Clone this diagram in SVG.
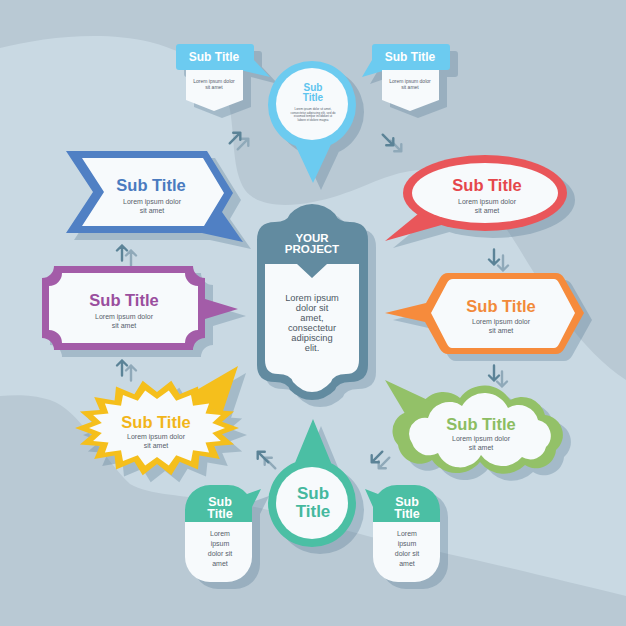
<svg xmlns="http://www.w3.org/2000/svg" width="626" height="626" viewBox="0 0 626 626">
<style>
text{font-family:"Liberation Sans",Arial,sans-serif;text-anchor:middle}
.t{font-weight:bold}
.sh{fill:#51758d;opacity:.3}
.w{fill:#f7fafc}
.lo{fill:#56606b;font-size:7px}
.lo5{fill:#56606b;font-size:5px}
.lo3{fill:#56606b;font-size:3px}
.lc{fill:#4d5863;font-size:9.3px}
.ad{stroke:#5b8397}
.al{stroke:#8fa9b9}
</style>
<defs>
<path id="arr" d="M0,7.5 L0,-7.5 M-5,-2.5 L0,-7.5 L5,-2.5" fill="none" stroke-width="2.4" stroke-linecap="round" stroke-linejoin="round"/>
<path id="s-tl" d="M179,44 L251,44 Q254,44 254,47 L254,60 L270,77 L243,70 L243,100 L214,111 L186,100 L186,70 L179,70 Q176,70 176,67 L176,47 Q176,44 179,44 Z"/>
<path id="s-tr" d="M375,44 L447,44 Q450,44 450,47 L450,67 Q450,70 447,70 L439,70 L439,100 L410,111 L382,100 L382,70 L362,77 L372,60 L372,47 Q372,44 375,44 Z"/>
<path id="s-pin" d="M268,105 A44,44 0 1 1 356,105 A44,44 0 1 1 268,105 Z M334,138 L313,183 L292,138 Z"/>
<path id="s-blue" d="M66,151 L207,151 L233,193 L222,212 L243,242 L202,233 L66,233 L93,192 Z"/>
<path id="s-purple" d="M54,266 L193,266 A12,12 0 0 0 205,278 L205,299 L238,309 L205,319 L205,338 A12,12 0 0 0 193,350 L54,350 A12,12 0 0 0 42,338 L42,278 A12,12 0 0 0 54,266 Z"/>
<g id="s-yellow">
<polygon points="239,428 222,434.3 234.1,444.4 214.2,446 219.8,458.9 199.4,455.6 198,469.6 179.6,461.8 171.3,475.3 157,464 142.7,475.3 134.4,461.8 116,469.6 114.6,455.6 94.2,458.9 99.8,446 79.9,444.4 92,434.3 75,428 92,421.7 79.9,411.6 99.8,410 94.2,397.1 114.6,400.4 116,386.4 134.4,394.2 142.7,380.7 157,392 171.3,380.7 179.6,394.2 198,386.4 199.4,400.4 219.8,397.1 214.2,410 234.1,411.6 222,421.7"/>
<polygon points="188,395 238,366 222,414"/>
</g>
<path id="s-center" d="M257,240 Q257,222 275,222 Q287,222 290,214 Q300,204 312,204 Q325,204 335,214 Q338,222 350,222 Q368,222 368,240 L368,365 Q368,382 350,382 Q338,382 335,390 Q325,400 312,400 Q300,400 290,390 Q287,382 275,382 Q257,382 257,365 Z"/>
<g id="s-red">
<ellipse cx="485" cy="193" rx="82" ry="38"/>
<polygon points="418,214 385,241 445,224"/>
</g>
<path id="s-orange" d="M448,273 L556,273 Q561,273 564,278 L584,313 L564,349 Q561,354 556,354 L448,354 Q443,354 440,349 L425,322 L385,313 L426,303 L440,278 Q443,273 448,273 Z"/>
<g id="s-green">
<path d="M398,445 A20,20 0 0 1 418,412 A26,26 0 0 1 460,398 A30,30 0 0 1 510,400 A24,24 0 0 1 545,415 A20,20 0 0 1 556,450 A20,20 0 0 1 525,465 A30,30 0 0 1 480,462 A30,30 0 0 1 432,460 A22,22 0 0 1 398,445 Z"/>
<polygon points="385,380 432,402 410,422"/>
</g>
<path id="s-bpin" d="M268,503 A44,44 0 1 1 356,503 A44,44 0 1 1 268,503 Z M292,470 L313,419 L334,470 Z"/>
<path id="s-bl" d="M185,510 A25,25 0 0 1 210,485 L227,485 A25,25 0 0 1 247,494 L261,489 L252,507 L252,557 A25,25 0 0 1 227,582 L210,582 A25,25 0 0 1 185,557 Z"/>
<path id="s-br" d="M440,510 A25,25 0 0 0 415,485 L398,485 A25,25 0 0 0 378,494 L365,489 L373,507 L373,557 A25,25 0 0 0 398,582 L415,582 A25,25 0 0 0 440,557 Z"/>
</defs>

<g id="background">
<rect width="626" height="626" fill="#b9c9d4"/>
<path fill="#c9d9e3" d="M0,48 C40,38 100,30 150,42 C200,55 225,80 230,110 C235,140 232,170 245,190 C260,210 300,208 340,195 C370,185 390,172 420,170 C455,170 480,195 500,220 C530,260 565,340 626,380 L626,596 C560,580 480,560 420,548 C350,534 300,515 230,502 C180,495 150,495 130,484 C100,455 80,410 50,400 C30,394 15,395 0,396 Z"/>
</g>

<g id="connectors">
<use href="#arr" class="al" transform="translate(243,144) rotate(45)"/>
<use href="#arr" class="ad" transform="translate(235,138) rotate(45)"/>
<use href="#arr" class="al" transform="translate(396,146) rotate(135)"/>
<use href="#arr" class="ad" transform="translate(388,140) rotate(135)"/>
<use href="#arr" class="al" transform="translate(503,263) rotate(180)"/>
<use href="#arr" class="ad" transform="translate(494,257) rotate(180)"/>
<use href="#arr" class="al" transform="translate(502,379) rotate(180)"/>
<use href="#arr" class="ad" transform="translate(494,373) rotate(180)"/>
<use href="#arr" class="al" transform="translate(384,463) rotate(225)"/>
<use href="#arr" class="ad" transform="translate(377,457) rotate(225)"/>
<use href="#arr" class="al" transform="translate(270,463) rotate(-45)"/>
<use href="#arr" class="ad" transform="translate(263,457) rotate(-45)"/>
<use href="#arr" class="al" transform="translate(131,373)"/>
<use href="#arr" class="ad" transform="translate(122,368)"/>
<use href="#arr" class="al" transform="translate(131,258)"/>
<use href="#arr" class="ad" transform="translate(122,253)"/>
</g>

<g id="node-top-left">
<use href="#s-tl" class="sh" transform="translate(8,7)"/>
<path fill="#6ccbf0" d="M179,44 L251,44 Q254,44 254,47 L254,60 L270,77 L240,70 L179,70 Q176,70 176,67 L176,47 Q176,44 179,44 Z"/>
<path class="w" d="M186,70 L243,70 L243,100 L214,111 L186,100 Z"/>
<text class="t" x="214" y="61" fill="#fff" font-size="12">Sub Title</text>
<text class="lo5" x="214" y="83">Lorem ipsum dolor</text>
<text class="lo5" x="214" y="89">sit amet</text>
</g>

<g id="node-top-right">
<use href="#s-tr" class="sh" transform="translate(8,7)"/>
<path fill="#6ccbf0" d="M375,44 L447,44 Q450,44 450,47 L450,67 Q450,70 447,70 L386,70 L362,77 L372,60 L372,47 Q372,44 375,44 Z"/>
<path class="w" d="M382,70 L439,70 L439,100 L410,111 L382,100 Z"/>
<text class="t" x="410" y="61" fill="#fff" font-size="12">Sub Title</text>
<text class="lo5" x="410" y="83">Lorem ipsum dolor</text>
<text class="lo5" x="410" y="89">sit amet</text>
</g>

<g id="node-top-pin">
<use href="#s-pin" class="sh" transform="translate(8,7)"/>
<use href="#s-pin" fill="#6ccbf0"/>
<circle class="w" cx="312" cy="104" r="36"/>
<text class="t" x="313" y="91" fill="#5ec4ee" font-size="10">Sub</text>
<text class="t" x="313" y="101" fill="#5ec4ee" font-size="10">Title</text>
<text class="lo3" x="313" y="110">Lorem ipsum dolor sit amet,</text>
<text class="lo3" x="313" y="113.5">consectetur adipiscing elit, sed do</text>
<text class="lo3" x="313" y="117">eiusmod tempor incididunt ut</text>
<text class="lo3" x="313" y="120.5">labore et dolore magna</text>
</g>

<g id="node-blue">
<use href="#s-blue" class="sh" transform="translate(8,7)"/>
<use href="#s-blue" fill="#5080c4"/>
<path class="w" d="M82,158 L203,158 L224,193 L204,226 L82,226 L104,192 Z"/>
<text class="t" x="151" y="191" fill="#4a7bbf" font-size="16.5">Sub Title</text>
<text class="lo" x="152" y="203.5">Lorem ipsum dolor</text>
<text class="lo" x="152" y="212.5">sit amet</text>
</g>

<g id="node-purple">
<use href="#s-purple" class="sh" transform="translate(8,7)"/>
<use href="#s-purple" fill="#a35ca8"/>
<path class="w" d="M62,273 L185,273 A13,13 0 0 0 198,286 L198,330 A13,13 0 0 0 185,343 L62,343 A13,13 0 0 0 49,330 L49,286 A13,13 0 0 0 62,273 Z"/>
<text class="t" x="124" y="306" fill="#9a4e9e" font-size="16.5">Sub Title</text>
<text class="lo" x="124" y="319">Lorem ipsum dolor</text>
<text class="lo" x="124" y="328">sit amet</text>
</g>

<g id="node-yellow">
<use href="#s-yellow" class="sh" transform="translate(8,7)"/>
<use href="#s-yellow" fill="#f5bf1c"/>
<polygon class="w" points="225,428 212.2,433 220.9,441 205.5,442.5 209.1,452.4 193,450.2 191,460.9 176.2,455.3 168.8,465.4 157,457 145.2,465.4 137.8,455.3 123,460.9 121,450.2 104.9,452.4 108.5,442.5 93.1,441 101.8,433 89,428 101.8,423 93.1,415 108.5,413.5 104.9,403.6 121,405.8 123,395.1 137.8,400.7 145.2,390.6 157,399 168.8,390.6 176.2,400.7 191,395.1 193,405.8 209.1,403.6 205.5,413.5 220.9,415 212.2,423"/>
<text class="t" x="156" y="428" fill="#f2b51a" font-size="16.5">Sub Title</text>
<text class="lo" x="156" y="438.5">Lorem ipsum dolor</text>
<text class="lo" x="156" y="447.5">sit amet</text>
</g>

<g id="node-center">
<use href="#s-center" class="sh" transform="translate(8,7)"/>
<use href="#s-center" fill="#628ba0"/>
<path class="w" d="M265,264 L297,264 L312,278 L327,264 L359,264 L359,360 Q359,374 346,374 Q334,374 331,382 Q322,392 312,392 Q302,392 293,382 Q290,374 278,374 Q265,374 265,360 Z"/>
<text class="t" x="312" y="242" fill="#fff" font-size="11.5">YOUR</text>
<text class="t" x="312" y="253" fill="#fff" font-size="11.5">PROJECT</text>
<text class="lc" x="312" y="300.5">Lorem ipsum</text>
<text class="lc" x="312" y="310.7">dolor sit</text>
<text class="lc" x="312" y="320.9">amet,</text>
<text class="lc" x="312" y="331">consectetur</text>
<text class="lc" x="312" y="341">adipiscing</text>
<text class="lc" x="312" y="351.3">elit.</text>
</g>

<g id="node-red">
<use href="#s-red" class="sh" transform="translate(8,7)"/>
<use href="#s-red" fill="#e9565a"/>
<ellipse class="w" cx="485" cy="193" rx="73" ry="30"/>
<text class="t" x="487" y="190.5" fill="#e5474b" font-size="16.5">Sub Title</text>
<text class="lo" x="487" y="203.5">Lorem ipsum dolor</text>
<text class="lo" x="487" y="212.5">sit amet</text>
</g>

<g id="node-orange">
<use href="#s-orange" class="sh" transform="translate(8,7)"/>
<use href="#s-orange" fill="#f68b3c"/>
<path class="w" d="M453,279 L554,279 Q557,279 559,283 L575,313 L559,344 Q557,348 554,348 L452,348 Q449,348 447,344 L431,313 L447,283 Q449,279 453,279 Z"/>
<text class="t" x="501" y="311.5" fill="#f28a3a" font-size="16.5">Sub Title</text>
<text class="lo" x="501" y="324">Lorem ipsum dolor</text>
<text class="lo" x="501" y="333">sit amet</text>
</g>

<g id="node-green">
<use href="#s-green" class="sh" transform="translate(8,7)"/>
<use href="#s-green" fill="#93c168"/>
<path class="w" d="M412,443 A16,16 0 0 1 428,418 A22,22 0 0 1 462,406 A26,26 0 0 1 508,408 A20,20 0 0 1 538,420 A16,16 0 0 1 546,447 A16,16 0 0 1 522,457 A26,26 0 0 1 481,455 A24,24 0 0 1 438,453 A18,18 0 0 1 412,443 Z"/>
<text class="t" x="481" y="430" fill="#8cbd62" font-size="16.5">Sub Title</text>
<text class="lo" x="481" y="440.5">Lorem ipsum dolor</text>
<text class="lo" x="481" y="449.5">sit amet</text>
</g>

<g id="node-bottom-pin">
<use href="#s-bpin" class="sh" transform="translate(8,7)"/>
<use href="#s-bpin" fill="#4bbfa4"/>
<circle class="w" cx="312" cy="503" r="36"/>
<text class="t" x="313" y="498.5" fill="#45b89e" font-size="17">Sub</text>
<text class="t" x="313" y="517" fill="#45b89e" font-size="17">Title</text>
</g>

<g id="node-bottom-left">
<use href="#s-bl" class="sh" transform="translate(8,7)"/>
<path fill="#4bbfa4" d="M185,522 L185,510 A25,25 0 0 1 210,485 L227,485 A25,25 0 0 1 247,494 L261,489 L252,507 L252,522 Z"/>
<path class="w" d="M185,522 L252,522 L252,557 A25,25 0 0 1 227,582 L210,582 A25,25 0 0 1 185,557 Z"/>
<text class="t" x="220" y="505.5" fill="#fff" font-size="12.5">Sub</text>
<text class="t" x="220" y="518" fill="#fff" font-size="12.5">Title</text>
<text class="lo" x="220" y="536">Lorem</text>
<text class="lo" x="220" y="546">ipsum</text>
<text class="lo" x="220" y="556">dolor sit</text>
<text class="lo" x="220" y="566">amet</text>
</g>

<g id="node-bottom-right">
<use href="#s-br" class="sh" transform="translate(8,7)"/>
<path fill="#4bbfa4" d="M440,522 L440,510 A25,25 0 0 0 415,485 L398,485 A25,25 0 0 0 378,494 L365,489 L373,507 L373,522 Z"/>
<path class="w" d="M373,522 L440,522 L440,557 A25,25 0 0 1 415,582 L398,582 A25,25 0 0 1 373,557 Z"/>
<text class="t" x="407" y="505.5" fill="#fff" font-size="12.5">Sub</text>
<text class="t" x="407" y="518" fill="#fff" font-size="12.5">Title</text>
<text class="lo" x="407" y="536">Lorem</text>
<text class="lo" x="407" y="546">ipsum</text>
<text class="lo" x="407" y="556">dolor sit</text>
<text class="lo" x="407" y="566">amet</text>
</g>
</svg>
